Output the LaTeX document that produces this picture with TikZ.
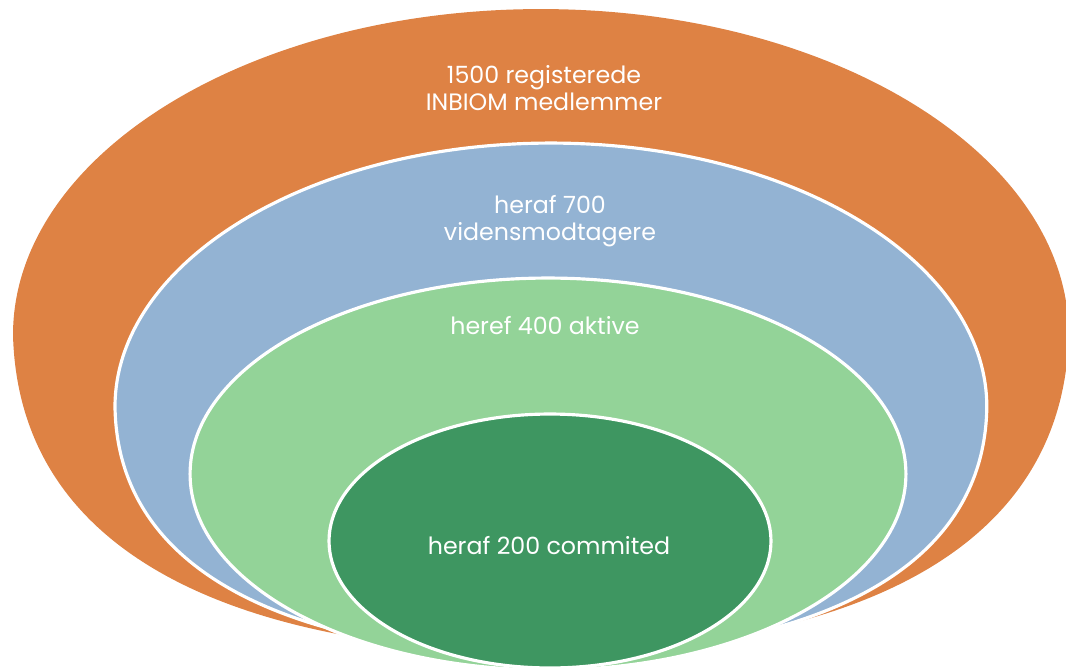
\documentclass[tikz,border=0pt]{standalone}
\usepackage{fontspec}
\setmainfont{Poppins}
\definecolor{memberorange}{RGB}{222,130,68}
\definecolor{receiverblue}{RGB}{147,179,211}
\definecolor{activegreen}{RGB}{147,211,152}
\definecolor{committedgreen}{RGB}{62,150,97}

\begin{document}
\begin{tikzpicture}[
    x=0.02cm, y=-0.02cm,
    ring/.style={draw=white, line width=1.8pt},
    label/.style={text=white, font=\fontsize{13.5}{15}\selectfont, align=center}
  ]
  \useasboundingbox (0,0) rectangle (1066,670);
  \clip (0,0) rectangle (1066,670);

  % Rings (egg shaped: round top, fuller bottom)
  \fill[memberorange] (13,335) arc[start angle=180, end angle=0, x radius=10.56cm, y radius=6.52cm]
    .. controls (1062,595) and (762,652) .. (541,652)
    .. controls (320,652) and (20,595) .. cycle;
  \filldraw[ring, fill=receiverblue] (115,407) arc[start angle=180, end angle=0, x radius=8.72cm, y radius=5.28cm]
    .. controls (984,600) and (752,655) .. (551,655)
    .. controls (350,655) and (118,600) .. cycle;
  \filldraw[ring, fill=activegreen] (548,474) ellipse [x radius=7.16cm, y radius=3.92cm];
  \filldraw[ring, fill=committedgreen] (550,541) ellipse [x radius=4.42cm, y radius=2.54cm];

  % Labels
  \node[label] (members) at (544,88) {1500 registerede\\INBIOM medlemmer};
  \node[label] (receivers) at (550,221) {heraf 700\\vidensmodtagere};
  \node[label] (active) at (545,326) {heref 400 aktive};
  \node[label] (committed) at (549,546) {heraf 200 commited};

\end{tikzpicture}
\end{document}
